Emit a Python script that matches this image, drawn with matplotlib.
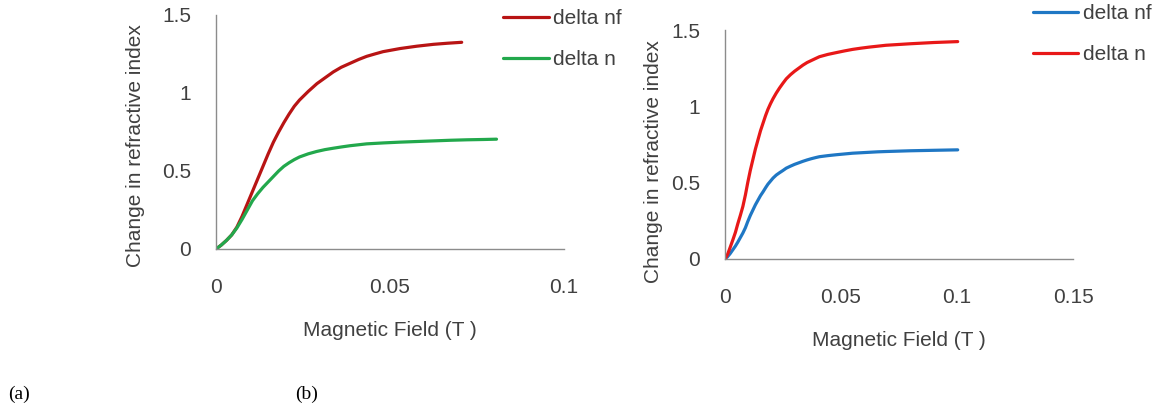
import numpy as np
import matplotlib.pyplot as plt

# (a) values
field_a_nf = [0, 0.0015, 0.003, 0.0045, 0.006, 0.0075, 0.009, 0.0105, 0.012, 0.0135, 0.015, 0.0165,
              0.018, 0.0195, 0.021, 0.0225, 0.024, 0.0265, 0.029, 0.0315, 0.0337, 0.036, 0.0385,
              0.041, 0.0433, 0.0456, 0.048, 0.0529, 0.0577, 0.0625, 0.0665, 0.0706]
delta_nf_a = [0, 0.025, 0.055, 0.09, 0.14, 0.21, 0.29, 0.37, 0.45, 0.53, 0.61, 0.685,
              0.75, 0.81, 0.865, 0.915, 0.955, 1.01, 1.06, 1.1, 1.135, 1.165, 1.19,
              1.215, 1.235, 1.25, 1.265, 1.285, 1.30, 1.312, 1.319, 1.325]
field_a_n = [0, 0.0015, 0.003, 0.0045, 0.006, 0.0075, 0.009, 0.0105, 0.012, 0.0135, 0.015, 0.0165,
             0.018, 0.0195, 0.021, 0.0225, 0.024, 0.0265, 0.0289, 0.0313, 0.0337, 0.036, 0.0385,
             0.0433, 0.0481, 0.0529, 0.0577, 0.0625, 0.0673, 0.0721, 0.0769, 0.0806]
delta_n_a = [0, 0.025, 0.055, 0.09, 0.135, 0.19, 0.25, 0.31, 0.355, 0.395, 0.43, 0.465,
             0.5, 0.53, 0.553, 0.573, 0.59, 0.61, 0.625, 0.637, 0.646, 0.654, 0.662,
             0.674, 0.68, 0.685, 0.689, 0.693, 0.697, 0.70, 0.702, 0.704]

# (b) values
field_b = [0, 0.0011, 0.0022, 0.0034, 0.0045, 0.0055, 0.0066, 0.0077, 0.0088, 0.0098, 0.0109, 0.012,
           0.0131, 0.0142, 0.0153, 0.0164, 0.0175, 0.0185, 0.0196, 0.0207, 0.0221, 0.0235, 0.025,
           0.0264, 0.0282, 0.03, 0.0318, 0.0336, 0.0354, 0.0372, 0.039, 0.0407, 0.0443, 0.048,
           0.0515, 0.055, 0.0586, 0.0622, 0.0658, 0.0694, 0.08, 0.09, 0.1003]
delta_nf_b = [0, 0.015, 0.035, 0.061, 0.085, 0.11, 0.14, 0.17, 0.205, 0.245, 0.285, 0.32,
              0.355, 0.385, 0.415, 0.44, 0.467, 0.49, 0.51, 0.53, 0.55, 0.565, 0.58,
              0.595, 0.608, 0.62, 0.63, 0.64, 0.649, 0.657, 0.664, 0.67, 0.677, 0.683,
              0.688, 0.693, 0.696, 0.699, 0.702, 0.704, 0.709, 0.712, 0.715]
delta_n_b = [0, 0.03, 0.075, 0.126, 0.175, 0.23, 0.285, 0.344, 0.42, 0.5, 0.58, 0.65,
             0.72, 0.78, 0.84, 0.89, 0.94, 0.98, 1.017, 1.05, 1.087, 1.12, 1.152,
             1.18, 1.207, 1.23, 1.25, 1.27, 1.287, 1.30, 1.313, 1.325, 1.34, 1.352,
             1.363, 1.373, 1.381, 1.388, 1.394, 1.40, 1.41, 1.418, 1.424]

xticks_a = [0, 0.05, 0.1]
xticks_b = [0, 0.05, 0.1, 0.15]
yticks = [0, 0.5, 1, 1.5]
ytick_labels = ["0", "0.5", "1", "1.5"]

plt.rcParams['font.family'] = ['Liberation Sans', 'DejaVu Sans']
txt = "#404040"
axc = "#8c8c8c"
fs = 15

fig = plt.figure(figsize=(11.55, 4.09), dpi=100)


def style(ax, xticks, xmax, ylab_xy):
    ax.set_xlim(0, xmax)
    ax.set_ylim(0, 1.5)
    for s in ["top", "right"]:
        ax.spines[s].set_visible(False)
    for s in ["left", "bottom"]:
        ax.spines[s].set_color(axc)
        ax.spines[s].set_linewidth(1.0)
    ax.set_xticks(xticks)
    ax.set_xticklabels([f"{t:g}" for t in xticks])
    ax.set_yticks(yticks)
    ax.set_yticklabels(ytick_labels)
    ax.tick_params(length=0, labelsize=fs, labelcolor=txt)
    ax.tick_params(axis="x", pad=21)
    ax.tick_params(axis="y", pad=18)
    ax.set_ylabel("Change in refractive index", fontsize=fs, color=txt)
    ax.yaxis.set_label_coords(*ylab_xy)
    ax.set_xlabel("Magnetic Field (T )", fontsize=fs, color=txt, labelpad=17)
    ax.patch.set_visible(False)


ax1 = fig.add_axes([216 / 1155, 160 / 409, 348 / 1155, 234 / 409])
ax1.plot(field_a_nf, delta_nf_a, color="#b81414", lw=2.3, label="delta nf", solid_capstyle="round")
ax1.plot(field_a_n, delta_n_a, color="#22a84c", lw=2.3, label="delta n", solid_capstyle="round")
style(ax1, xticks_a, 0.1, (-0.204, 0.44))
ax1.legend(loc="upper left", bbox_to_anchor=(0.8, 1.06), frameon=False, fontsize=fs,
           labelcolor=txt, handlelength=2.2, handletextpad=0.2, labelspacing=1.05, borderaxespad=0)

ax2 = fig.add_axes([725 / 1155, 150 / 409, 348 / 1155, 229 / 409])
ax2.plot(field_b, delta_nf_b, color="#1f77c4", lw=2.3, label="delta nf", solid_capstyle="round")
ax2.plot(field_b, delta_n_b, color="#e81818", lw=2.3, label="delta n", solid_capstyle="round")
style(ax2, xticks_b, 0.15, (-0.178, 0.424))
ax2.legend(loc="upper left", bbox_to_anchor=(0.86, 1.15), frameon=False, fontsize=fs,
           labelcolor=txt, handlelength=2.2, handletextpad=0.2, labelspacing=1.05, borderaxespad=0)

fig.text(8 / 1155, 1 - 394 / 409, "(a)", fontsize=14, family="Liberation Serif", va="center")
fig.text(295 / 1155, 1 - 394 / 409, "(b)", fontsize=14, family="Liberation Serif", va="center")

fig.savefig("out.png", dpi=100)
